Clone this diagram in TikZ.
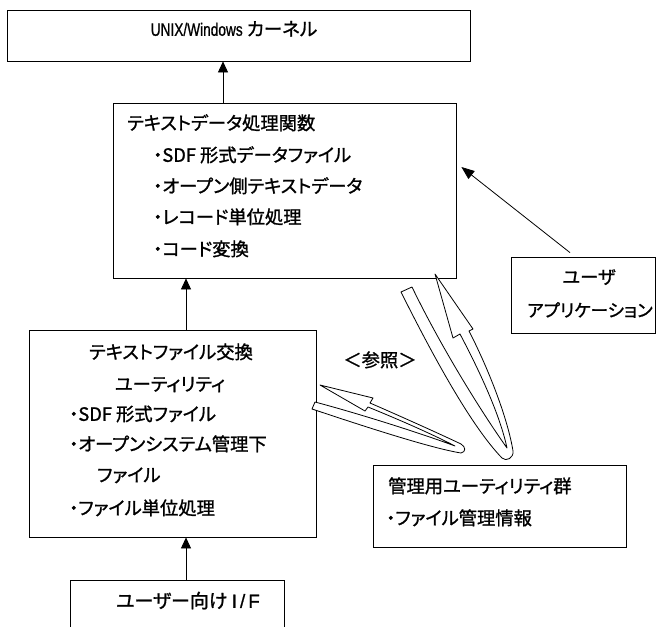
\documentclass[tikz,border=0pt]{standalone}
\usepackage{fontspec}
\setmainfont[FakeBold=1.2,RawFeature=+palt]{Noto Sans CJK JP}
\newfontfamily\lat[FakeBold=0.8]{Liberation Sans}
\newfontfamily\latn[FakeStretch=0.76,FakeBold=0.8]{Liberation Sans}
\usetikzlibrary{arrows.meta}
\tikzset{
  box/.style={draw, line width=0.8pt, inner sep=0pt, fill=none},
  txt/.style={inner sep=0pt, anchor=west, text height=0.88em, text depth=0.12em,
              font=\fontsize{18.3}{20}\selectfont},
  ctxt/.style={txt, anchor=center},
  arr/.style={line width=0.8pt, -{Triangle[length=11pt,width=10pt]}},
  ribbon/.style={draw, line width=0.8pt, fill=white, line join=round}
}
\begin{document}
\begin{tikzpicture}[x=1pt, y=-1pt]
\useasboundingbox (0,0) rectangle (657,627);

% boxes
\node[box, minimum width=463pt, minimum height=51pt] (kern) at (238.5,35.5) {};
\node[box, minimum width=343pt, minimum height=175pt] (proc) at (284.5,190.5) {};
\node[box, minimum width=287pt, minimum height=207pt] (xfer) at (172.5,433.5) {};
\node[box, minimum width=214pt, minimum height=60pt] (uif) at (177,610) {};
\node[box, minimum width=144pt, minimum height=76pt] (uapp) at (583,295) {};
\node[box, minimum width=253pt, minimum height=82pt] (mgmt) at (499.5,506) {};

% texts
\node[ctxt, font=\fontsize{18.5}{20}\selectfont] (tk) at (234,32) {{\latn\fontsize{18}{20}\selectfont UNIX/Windows} カーネル};

\node[txt] (p0) at (127,126) {テキストデータ処理関数};
\node[txt] (p1) at (153,158) {・SDF 形式データファイル};
\node[txt] (p2) at (153,189) {・オープン側テキストデータ};
\node[txt] (p3) at (153,220) {・レコード単位処理};
\node[txt] (p4) at (153,252) {・コード変換};

\node[ctxt] (x0) at (171,355) {テキストファイル交換};
\node[ctxt] (x1) at (170,387) {ユーティリティ};
\node[txt] (x2) at (69,417) {・SDF 形式ファイル};
\node[txt] (x3) at (69,447) {・オープンシステム管理下};
\node[txt] (x4) at (97,478) {ファイル};
\node[txt] (x5) at (69,511) {・ファイル単位処理};

\node[ctxt, font=\fontsize{19}{20}\selectfont] (ut) at (188,604) {ユーザー向け {\lat\fontsize{19}{20}\selectfont I\kern3pt/\kern3pt F}};

\node[ctxt] (a0) at (589,280) {ユーザ};
\node[ctxt, font=\fontsize{17.6}{20}\selectfont] (a1) at (590,313) {アプリケーション};

\node[txt] (m0) at (388,489) {管理用ユーティリティ群};
\node[txt] (m1) at (386,521) {・ファイル管理情報};

\node[ctxt] (ref) at (380,363) {＜参照＞};

% straight arrows
\coordinate (pa) at ([xshift=-61.5pt]proc.north);
\draw[arr] (pa) -- (pa |- kern.south);
\coordinate (xa) at ([xshift=13.5pt]xfer.north);
\draw[arr] (xa) -- (xa |- proc.south);
\coordinate (ua) at ([xshift=9pt]uif.north);
\draw[arr] (ua) -- (ua |- xfer.south);
\coordinate (aa) at ([xshift=-13pt,yshift=4pt]uapp.north);
\coordinate (ab) at ([xshift=5pt,yshift=23.5pt]proc.east);
\draw[line width=0.8pt, -{Triangle[length=13pt,width=10pt]}] (aa) -- (ab);

% ribbon arrow: management -> text data processing
\draw[ribbon] (401,292) .. controls (430,350) and (470,425) .. (502,458)
  .. controls (506,462) and (514,458) .. (513,451)
  .. controls (508,420) and (490,372) .. (469,331)
  -- (473,329) -- (435,274) -- (453,338) -- (460,334)
  .. controls (480,372) and (500,415) .. (507,448)
  .. controls (480,410) and (440,345) .. (412,287)
  -- cycle;

% ribbon arrow: management -> text file exchange
\draw[ribbon] (320,385) -- (373,398) -- (370,403)
  .. controls (400,416) and (440,434) .. (461,444)
  .. controls (466,447) and (466,452) .. (461,453)
  .. controls (430,448) and (360,425) .. (312,409)
  -- (315,402)
  .. controls (360,414) and (420,433) .. (455,446)
  .. controls (430,433) and (395,418) .. (368,407)
  -- (365,411) -- cycle;
\end{tikzpicture}
\end{document}
